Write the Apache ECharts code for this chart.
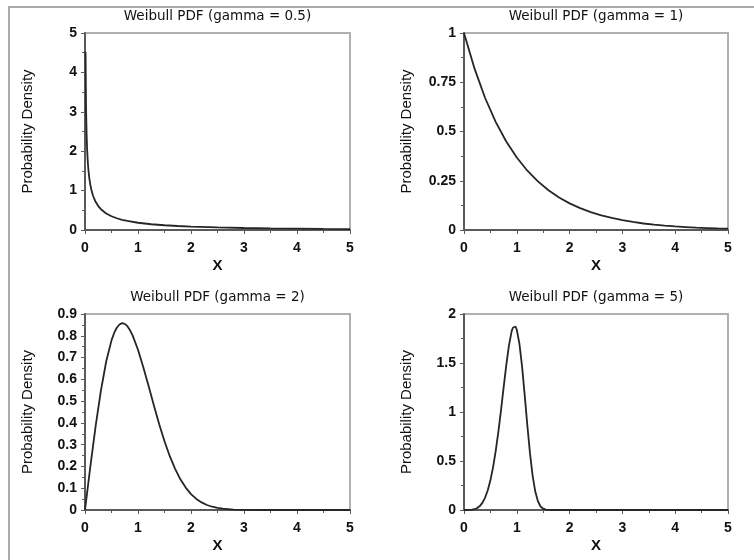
<!DOCTYPE html>
<html>
<head>
<meta charset="utf-8">
<script src="https://cdn.jsdelivr.net/npm/echarts@6/dist/echarts.min.js"></script>
<style>
  html, body { margin: 0; padding: 0; background: #fff; }
  #chart { width: 754px; height: 560px; }
</style>
</head>
<body>
<div id="chart"></div>
<script>
// ---- Data (x, density) ----
const titles = ['Weibull PDF (gamma = 0.5)', 'Weibull PDF (gamma = 1)', 'Weibull PDF (gamma = 2)', 'Weibull PDF (gamma = 5)'];
const xTicks = [0, 1, 2, 3, 4, 5];

const xG05 = [0.01, 0.02, 0.03, 0.04, 0.05, 0.06, 0.07, 0.08, 0.1, 0.12, 0.15, 0.2, 0.25, 0.3, 0.4, 0.5, 0.6, 0.7, 0.8, 1.0, 1.25, 1.5, 1.75, 2.0, 2.5, 3.0, 3.5, 4.0, 4.5, 5.0];
const yG05 = [4.524, 3.069, 2.428, 2.047, 1.788, 1.598, 1.451, 1.332, 1.153, 1.021, 0.876, 0.715, 0.607, 0.528, 0.420, 0.349, 0.298, 0.259, 0.229, 0.184, 0.146, 0.120, 0.101, 0.086, 0.065, 0.051, 0.041, 0.034, 0.028, 0.024];

const xG1 = [0, 0.2, 0.4, 0.6, 0.8, 1.0, 1.2, 1.4, 1.6, 1.8, 2.0, 2.2, 2.4, 2.6, 2.8, 3.0, 3.2, 3.4, 3.6, 3.8, 4.0, 4.2, 4.4, 4.6, 4.8, 5.0];
const yG1 = [1.0, 0.819, 0.670, 0.549, 0.449, 0.368, 0.301, 0.247, 0.202, 0.165, 0.135, 0.111, 0.091, 0.074, 0.061, 0.050, 0.041, 0.033, 0.027, 0.022, 0.018, 0.015, 0.012, 0.010, 0.008, 0.007];

const xG2 = [0, 0.1, 0.2, 0.3, 0.4, 0.5, 0.55, 0.6, 0.65, 0.7, 0.75, 0.8, 0.85, 0.9, 1.0, 1.1, 1.2, 1.3, 1.4, 1.5, 1.6, 1.7, 1.8, 1.9, 2.0, 2.1, 2.2, 2.3, 2.4, 2.5, 2.6, 2.8, 3.0, 3.5, 4.0, 4.5, 5.0];
const yG2 = [0, 0.198, 0.384, 0.548, 0.682, 0.779, 0.813, 0.837, 0.852, 0.858, 0.855, 0.844, 0.825, 0.801, 0.736, 0.656, 0.569, 0.480, 0.394, 0.316, 0.247, 0.189, 0.141, 0.103, 0.073, 0.051, 0.035, 0.023, 0.015, 0.010, 0.006, 0.002, 0.001, 0, 0, 0, 0];

const xG5 = [0, 0.1, 0.15, 0.2, 0.25, 0.3, 0.35, 0.4, 0.45, 0.5, 0.55, 0.6, 0.65, 0.7, 0.75, 0.8, 0.85, 0.9, 0.925, 0.95, 0.975, 1.0, 1.05, 1.1, 1.15, 1.2, 1.25, 1.3, 1.35, 1.4, 1.45, 1.5, 1.55, 1.6, 1.7, 2.0, 3.0, 4.0, 5.0];
const yG5 = [0, 0.0005, 0.0025, 0.008, 0.0195, 0.040, 0.075, 0.127, 0.201, 0.303, 0.435, 0.600, 0.795, 1.015, 1.248, 1.476, 1.675, 1.818, 1.860, 1.879, 1.872, 1.839, 1.696, 1.463, 1.170, 0.861, 0.577, 0.349, 0.188, 0.089, 0.036, 0.013, 0.004, 0.001, 0, 0, 0, 0, 0];

const yRanges = [
  { min: 0, max: 5, interval: 1 },
  { min: 0, max: 1, interval: 0.25 },
  { min: 0, max: 0.9, interval: 0.1 },
  { min: 0, max: 2, interval: 0.5 }
];

const panels = [
  { xs: xG05, ys: yG05 },
  { xs: xG1, ys: yG1 },
  { xs: xG2, ys: yG2 },
  { xs: xG5, ys: yG5 }
];

// ---- Layout ----
const grids = [
  { left: 85, top: 33, width: 265, height: 197 },
  { left: 464, top: 33, width: 264, height: 197 },
  { left: 85, top: 314, width: 265, height: 196 },
  { left: 464, top: 314, width: 264, height: 196 }
];

const axisDark = '#5a5a5a';
const textColor = '#111';
const labelFont = 'Liberation Sans, Arial, sans-serif';

const chart = echarts.init(document.getElementById('chart'), null, { renderer: 'canvas' });

const option = {
  animation: false,
  backgroundColor: '#fff',
  grid: grids.map(g => Object.assign({
    show: true, borderColor: '#b0b0b0', borderWidth: 2, backgroundColor: 'transparent', containLabel: false
  }, g)),
  xAxis: grids.map((g, i) => ({
    type: 'value', gridIndex: i, min: xTicks[0], max: xTicks[xTicks.length - 1], interval: 1,
    name: 'X', nameLocation: 'middle', nameGap: 28,
    nameTextStyle: { color: textColor, fontSize: 15, fontWeight: 'bold', fontFamily: labelFont },
    axisLine: { show: true, lineStyle: { color: axisDark, width: 2 } },
    axisTick: { show: true, inside: false, length: 4, lineStyle: { color: axisDark, width: 1 } },
    minorTick: { show: true, splitNumber: 2, length: 3, lineStyle: { color: axisDark, width: 1 } },
    splitLine: { show: false },
    axisLabel: { margin: 11, color: textColor, fontSize: 14, fontWeight: 'bold', fontFamily: labelFont }
  })),
  yAxis: grids.map((g, i) => ({
    type: 'value', gridIndex: i, min: yRanges[i].min, max: yRanges[i].max, interval: yRanges[i].interval,
    name: 'Probability Density', nameLocation: 'middle', nameGap: 50,
    nameTextStyle: { color: textColor, fontSize: 15, fontFamily: labelFont },
    axisLine: { show: true, lineStyle: { color: axisDark, width: 2 } },
    axisTick: { show: true, inside: false, length: 4, lineStyle: { color: axisDark, width: 1 } },
    minorTick: { show: true, splitNumber: 2, length: 3, lineStyle: { color: axisDark, width: 1 } },
    splitLine: { show: false },
    axisLabel: { margin: 8, color: textColor, fontSize: 14, fontWeight: 'bold', fontFamily: labelFont }
  })),
  series: panels.map((p, i) => ({
    type: 'line', xAxisIndex: i, yAxisIndex: i,
    data: p.xs.map((x, k) => [x, p.ys[k]]),
    showSymbol: false, smooth: false,
    lineStyle: { color: '#262626', width: 1.8 },
    clip: true
  })),
  graphic: [
    {
      type: 'polyline', silent: true,
      shape: { points: [[9, 560], [9, 7], [754, 7]] },
      style: { stroke: '#aaaaaa', lineWidth: 2, fill: null }
    }
  ].concat(grids.map((g, i) => ({
    type: 'text', silent: true,
    x: g.left + g.width / 2, y: g.top - 17,
    style: {
      text: titles[i], align: 'center', verticalAlign: 'middle',
      fill: textColor, font: '13.5px "DejaVu Sans", sans-serif'
    }
  })))
};

chart.setOption(option);
</script>
</body>
</html>
